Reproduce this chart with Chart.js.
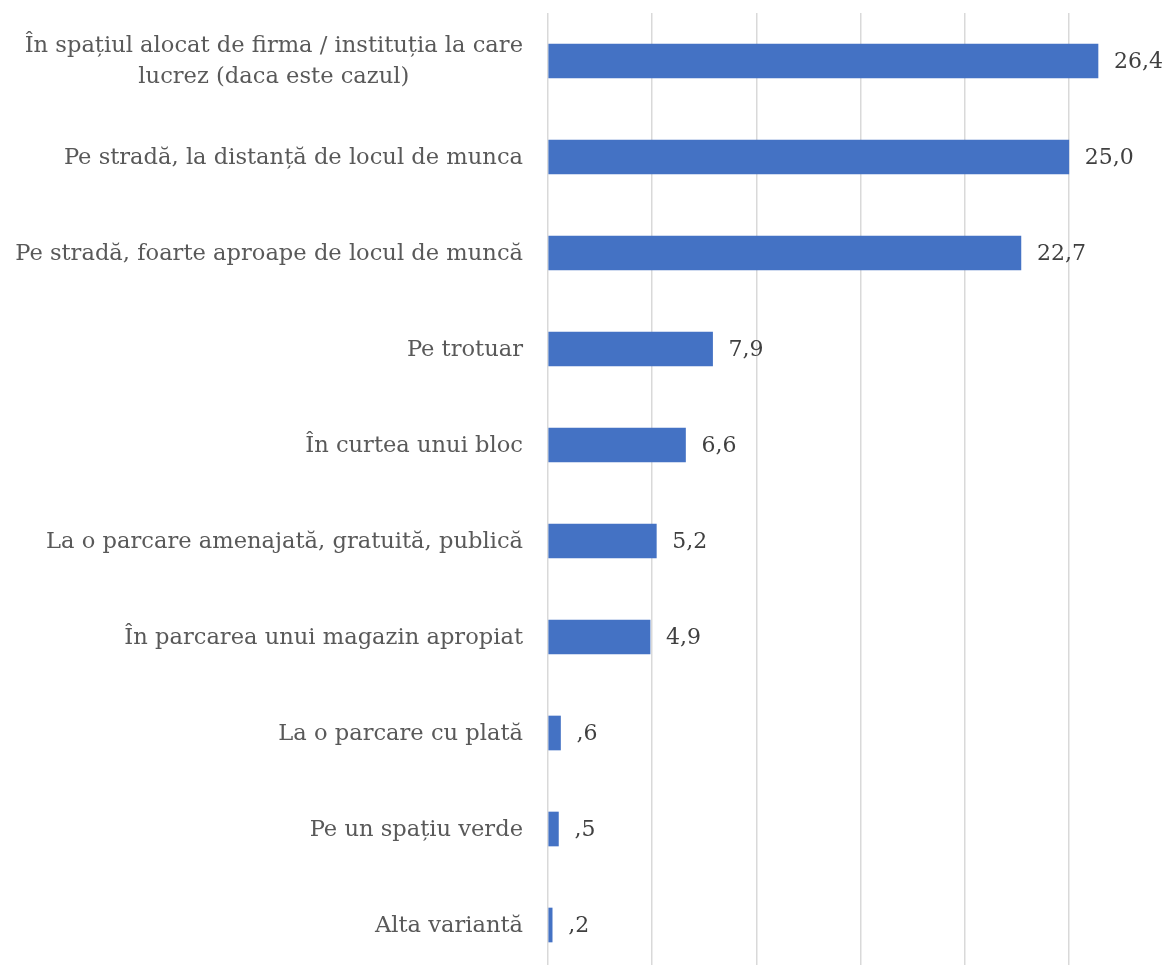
<!DOCTYPE html>
<html lang="ro">
<head>
  <meta charset="UTF-8">
  <title>Unde parcați</title>
  <script src="https://cdn.jsdelivr.net/npm/chart.js"></script>
  <style>
    html, body {
      margin: 0;
      padding: 0;
      background: #ffffff;
      overflow: hidden;
    }
    #wrap {
      position: relative;
      width: 1174px;
      height: 973px;
    }
  </style>
</head>
<body>
  <div id="wrap">
    <canvas id="parkChart" width="1174" height="973"></canvas>
  </div>

  <script>
    // categories (first one wraps on two lines)
    const categories = [
      ['În spațiul alocat de firma / instituția la care', 'lucrez (daca este cazul)'],
      ['Pe stradă, la distanță de locul de munca'],
      ['Pe stradă, foarte aproape de locul de muncă'],
      ['Pe trotuar'],
      ['În curtea unui bloc'],
      ['La o parcare amenajată, gratuită, publică'],
      ['În parcarea unui magazin apropiat'],
      ['La o parcare cu plată'],
      ['Pe un spațiu verde'],
      ['Alta variantă']
    ];
    const percents = [26.4, 25.0, 22.7, 7.9, 6.6, 5.2, 4.9, 0.6, 0.5, 0.2];
    const gridTicks = [0, 5, 10, 15, 20, 25];

    const labelFont = '22.6px "DejaVu Serif", serif';
    const valueFont = '22px "DejaVu Serif", serif';

    // SPSS style: 0,6 -> ,6
    function fmt(v) {
      return v.toFixed(1).replace('.', ',').replace(/^0,/, ',');
    }

    // category labels, lines centred inside their block, block right-aligned to the axis
    const categoryLabels = {
      id: 'categoryLabels',
      afterDraw(chart) {
        const ctx = chart.ctx;
        const y = chart.scales.y;
        const right = y.right - 25;
        const lh = 31;
        ctx.save();
        ctx.font = labelFont;
        ctx.fillStyle = '#595959';
        ctx.textBaseline = 'middle';
        ctx.textAlign = 'center';
        categories.forEach((lines, i) => {
          const cy = y.getPixelForTick(i) + 1;
          const w = Math.max(...lines.map(l => ctx.measureText(l).width));
          const cx = right - w / 2;
          const y0 = cy - (lines.length - 1) * lh / 2;
          lines.forEach((l, k) => ctx.fillText(l, cx, y0 + k * lh));
        });
        ctx.restore();
      }
    };

    // value labels at the bar ends
    const valueLabels = {
      id: 'valueLabels',
      afterDatasetsDraw(chart) {
        const ctx = chart.ctx;
        const meta = chart.getDatasetMeta(0);
        ctx.save();
        ctx.font = valueFont;
        ctx.fillStyle = '#404040';
        ctx.textBaseline = 'middle';
        ctx.textAlign = 'left';
        meta.data.forEach((bar, i) => {
          ctx.fillText(fmt(percents[i]), bar.x + 16, bar.y + 1);
        });
        ctx.restore();
      }
    };

    new Chart(document.getElementById('parkChart'), {
      type: 'bar',
      data: {
        labels: categories.map(c => c.join(' ')),
        datasets: [{
          data: percents,
          backgroundColor: '#4472C4',
          borderWidth: 0,
          barThickness: 34
        }]
      },
      options: {
        indexAxis: 'y',
        responsive: false,
        animation: false,
        layout: { padding: { top: 13, right: 1, bottom: 0, left: 0 } },
        plugins: {
          legend: { display: false },
          tooltip: { enabled: false }
        },
        scales: {
          x: {
            min: 0,
            max: 30,
            afterBuildTicks(scale) {
              scale.ticks = gridTicks.map(v => ({ value: v }));
            },
            ticks: { display: false },
            border: { display: false },
            grid: { color: '#d9d9d9', lineWidth: 1.5, drawTicks: false }
          },
          y: {
            afterFit(scale) { scale.width = 548; },
            ticks: { display: false },
            border: { display: false },
            grid: { display: false }
          }
        }
      },
      plugins: [categoryLabels, valueLabels]
    });
  </script>
</body>
</html>
